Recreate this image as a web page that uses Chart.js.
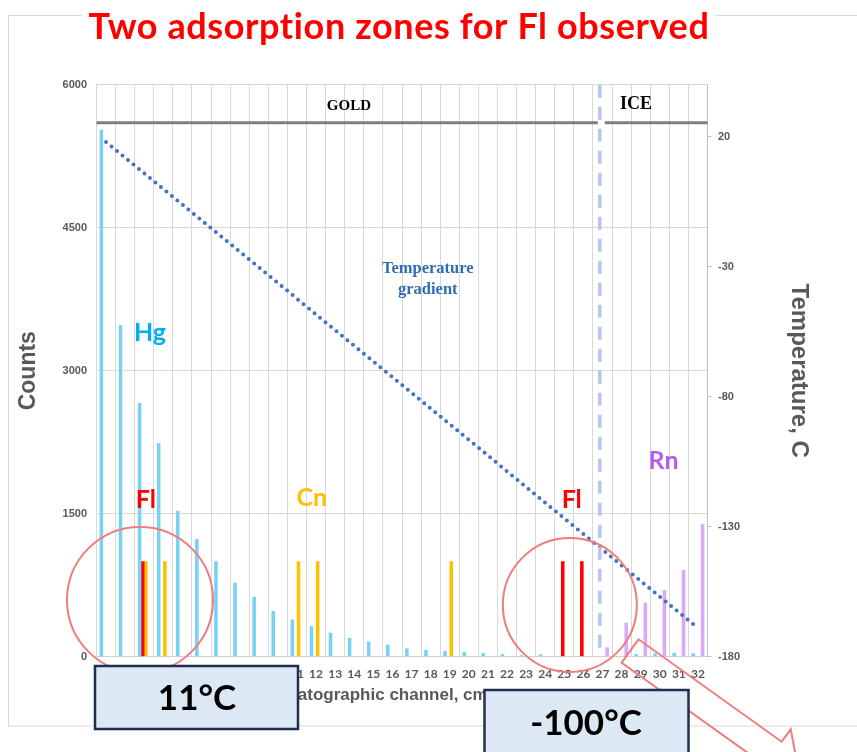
<!DOCTYPE html>
<html>
<head>
<meta charset="utf-8">
<script src="https://cdn.jsdelivr.net/npm/chart.js@4.4.1/dist/chart.umd.min.js"></script>
<style>
  html, body { margin: 0; padding: 0; background: #fff; }
  #wrap { width: 857px; height: 752px; }
</style>
</head>
<body>
<div id="wrap"><canvas id="flChart"></canvas></div>
<script>
/* global Chart */

const channels = ['1', '2', '3', '4', '5', '6', '7', '8', '9', '10', '11', '12', '13', '14', '15', '16',
  '17', '18', '19', '20', '21', '22', '23', '24', '25', '26', '27', '28', '29', '30', '31', '32'];

const hgCounts = [5530, 3480, 2660, 2240, 1530, 1235, 1000, 775, 625, 480, 390, 320, 250, 195, 160, 125,
  85, 70, 60, 48, 40, 28, 15, 25, 0, 0, 0, 0, 28, 35, 42, 35];
const flCounts = [0, 0, 1000, 0, 0, 0, 0, 0, 0, 0, 0, 0, 0, 0, 0, 0,
  0, 0, 0, 0, 0, 0, 0, 0, 1000, 1000, 0, 0, 0, 0, 0, 0];
const cnCounts = [0, 0, 1000, 1000, 0, 0, 0, 0, 0, 0, 1000, 1000, 0, 0, 0, 0,
  0, 0, 1000, 0, 0, 0, 0, 0, 0, 0, 0, 0, 0, 0, 0, 0];
const rnCounts = [0, 0, 0, 0, 0, 0, 0, 0, 0, 0, 0, 0, 0, 0, 0, 0,
  0, 0, 0, 0, 0, 0, 0, 0, 0, 0, 98, 357, 566, 700, 910, 1390];

const countTicks = [0, 1500, 3000, 4500, 6000];
const tempTicks = [-180, -130, -80, -30, 20];

// temperature gradient along the column, end points
const gradientChannels = ['1', '32'];
const gradientTemps = [18, -169];

const GRAY = '#595959';
const MARK = '#f27b7b';

function text(ctx, str, x, y, font, color, align = 'center') {
  ctx.font = font;
  ctx.fillStyle = color;
  ctx.textAlign = align;
  ctx.textBaseline = 'middle';
  ctx.fillText(str, x, y);
}

const overlay = {
  id: 'overlay',
  beforeDraw(chart) {
    const { ctx } = chart;
    ctx.save();
    ctx.strokeStyle = '#d9d9d9';
    ctx.lineWidth = 1;
    ctx.strokeRect(8.5, 15.5, 880, 710.5);
    ctx.fillStyle = '#fff';
    ctx.fillRect(82, 8, 634, 14);
    ctx.font = 'bold 36px Lato';
    ctx.letterSpacing = '0.6px';
    ctx.fillStyle = '#ff0000';
    ctx.textAlign = 'center';
    ctx.textBaseline = 'alphabetic';
    ctx.fillText('Two adsorption zones for Fl observed', 399, 38.5);
    ctx.restore();
  },
  afterDatasetsDraw(chart) {
    const { ctx, scales: { x, y } } = chart;
    const px = (i) => x.getPixelForValue(i);
    const py = (v) => y.getPixelForValue(v);
    ctx.save();

    // GOLD / ICE divider
    const iceX = px(25.86);
    ctx.strokeStyle = '#7f7f7f';
    ctx.lineWidth = 3;
    ctx.beginPath();
    ctx.moveTo(px(-0.5), py(5600));
    ctx.lineTo(iceX - 2, py(5600));
    ctx.moveTo(iceX + 5, py(5600));
    ctx.lineTo(px(31.5), py(5600));
    ctx.stroke();

    ctx.strokeStyle = '#b4c7e7';
    ctx.lineWidth = 3.5;
    ctx.setLineDash([13, 9]);
    ctx.beginPath();
    ctx.moveTo(iceX, py(6000));
    ctx.lineTo(iceX, py(0));
    ctx.stroke();
    ctx.setLineDash([]);

    text(ctx, 'GOLD', px(12.72), py(5777), 'bold 15px "Liberation Serif"', '#000');
    text(ctx, 'ICE', px(27.75), py(5798), 'bold 18px "Liberation Serif"', '#000');
    text(ctx, 'Temperature', px(16.85), py(4067), 'bold 16.5px "Liberation Serif"', '#2f6db5');
    text(ctx, 'gradient', px(16.85), py(3847), 'bold 16.5px "Liberation Serif"', '#2f6db5');

    text(ctx, 'Hg', px(2.3), py(3395), 'bold 25px Lato', '#00b0f0');
    text(ctx, 'Fl', px(2.09), py(1644), 'bold 25px Lato', '#ff0000');
    text(ctx, 'Cn', px(10.78), py(1665), 'bold 25px Lato', '#ffc000');
    text(ctx, 'Fl', px(24.39), py(1644), 'bold 25px Lato', '#ff0000');
    text(ctx, 'Rn', px(29.2), py(2053), 'bold 25px Lato', '#b35cf0');

    // adsorption zones
    ctx.strokeStyle = MARK;
    ctx.lineWidth = 2;
    ctx.beginPath();
    ctx.arc(px(1.78), py(595), 73, 0, Math.PI * 2);
    ctx.stroke();
    ctx.beginPath();
    ctx.arc(px(24.29), py(542), 67, 0, Math.PI * 2);
    ctx.stroke();
    ctx.restore();
  },
  afterDraw(chart) {
    const { ctx } = chart;
    ctx.save();
    text(ctx, 'Chromatographic channel, cm', 243, 695, 'bold 17px "Liberation Sans"', GRAY, 'left');

    // arrow towards the cold end
    ctx.strokeStyle = MARK;
    ctx.lineWidth = 2;
    ctx.beginPath();
    ctx.moveTo(621.7, 662.7);
    ctx.lineTo(638.5, 639.3);
    ctx.lineTo(781.7, 741.7);
    ctx.lineTo(790.7, 729.3);
    ctx.lineTo(798.8, 771.9);
    ctx.lineTo(755.7, 778);
    ctx.lineTo(764.9, 765.1);
    ctx.closePath();
    ctx.stroke();

    // temperature boxes
    ctx.fillStyle = '#dde8f5';
    ctx.strokeStyle = '#1f2f4f';
    ctx.lineWidth = 2.5;
    ctx.fillRect(95, 666, 203, 63);
    ctx.strokeRect(95, 666, 203, 63);
    ctx.fillRect(484.5, 690, 204, 80);
    ctx.strokeRect(484.5, 690, 204, 80);
    text(ctx, '11°C', 197, 699, 'bold 35px Lato', '#000');
    text(ctx, '-100°C', 586, 724, 'bold 35px Lato', '#000');
    ctx.restore();
  },
};

function barSet(label, data, color) {
  return {
    type: 'bar',
    label,
    data,
    backgroundColor: color,
    yAxisID: 'y',
    categoryPercentage: 0.65,
    barPercentage: 1.15,
  };
}

function flChart() {
  const datasets = [
    {
      type: 'line',
      label: 'Temperature gradient',
      data: gradientChannels.map((c, i) => ({ x: c, y: gradientTemps[i] })),
      yAxisID: 'y1',
      borderColor: '#4472c4',
      borderWidth: 4,
      borderDash: [0, 7.1],
      borderCapStyle: 'round',
      pointRadius: 0,
      fill: false,
    },
    barSet('Hg', hgCounts, '#79d1f4'),
    barSet('Fl', flCounts, '#ff0000'),
    barSet('Cn', cnCounts, '#ffc000'),
    barSet('Rn', rnCounts, '#d9a9fb'),
  ];

  const tickFont = { family: 'Liberation Sans', size: 11, weight: 'bold' };

  const config = {
    data: { labels: channels, datasets },
    options: {
      responsive: true,
      maintainAspectRatio: false,
      animation: false,
      devicePixelRatio: 1,
      layout: { padding: { top: 84.7, right: 44, bottom: 0, left: 0 } },
      plugins: { legend: { display: false }, tooltip: { enabled: false } },
      scales: {
        x: {
          grid: { color: '#d9d9d9', drawTicks: false, offset: true },
          border: { color: '#d0d0d0' },
          ticks: { color: GRAY, font: { family: 'Lato', size: 12, weight: 'bold' }, padding: 10, maxRotation: 0, autoSkip: false },
          afterFit: (scale) => { scale.height = 95.3; },
        },
        y: {
          position: 'left',
          min: 0,
          max: 6000,
          afterBuildTicks: (scale) => { scale.ticks = countTicks.map((v) => ({ value: v })); },
          grid: { color: '#d9d9d9', drawTicks: false },
          border: { color: '#d9d9d9' },
          ticks: { color: GRAY, font: tickFont, padding: 9.5, callback: (v) => String(v) },
          title: { display: true, text: 'Counts', color: GRAY, font: { family: 'Liberation Sans', size: 23, weight: 'bold' }, padding: { top: 15 } },
          afterFit: (scale) => { scale.width = 96.5; },
        },
        y1: {
          position: 'right',
          min: -180,
          max: 40,
          afterBuildTicks: (scale) => { scale.ticks = tempTicks.map((v) => ({ value: v })); },
          grid: { drawOnChartArea: false, color: '#bfbfbf', tickLength: 4 },
          border: { color: '#bfbfbf' },
          ticks: { color: GRAY, font: tickFont, padding: 6.5, callback: (v) => String(v) },
          title: { display: true, text: 'Temperature, C', color: GRAY, font: { family: 'Liberation Sans', size: 24, weight: 'bold' }, padding: { top: 0 } },
          afterFit: (scale) => { scale.width = 105.5; },
        },
      },
    },
    plugins: [overlay],
  };

  return new Chart(document.getElementById('flChart'), config);
}

document.addEventListener('DOMContentLoaded', flChart);
</script>
</body>
</html>
